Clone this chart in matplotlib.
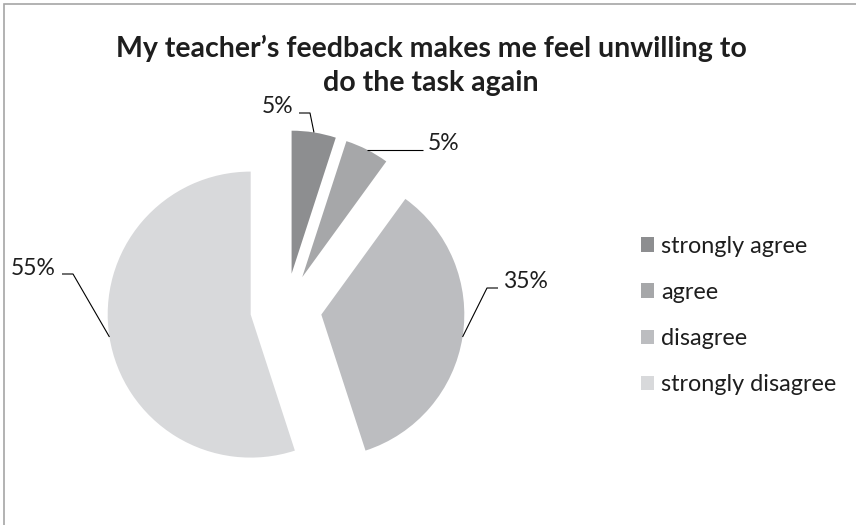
import matplotlib.pyplot as plt
import matplotlib.patches as mpatches
import numpy as np

plt.rcParams['font.family'] = ['Lato', 'DejaVu Sans']

title = 'My teacher\u2019s feedback makes me feel unwilling to\ndo the task again'
categories = ['strongly agree', 'agree', 'disagree', 'strongly disagree']
shares = [5, 5, 35, 55]
pct_labels = ['5%', '5%', '35%', '55%']
colors = ['#8d8e90', '#a6a7a9', '#bcbdc0', '#d8d9db']

W, H = 856, 525
R = 143.0          # pie radius in pixels
CX, CY = 286, 309  # pie centre in pixels (y from top)
TEXT = '#1e1e1e'


def px(x, y):
    # pixel position (y down) -> data coordinates
    return (x - CX) / R, (CY - y) / R


fig = plt.figure(figsize=(W / 100, H / 100), dpi=100)
ax = fig.add_axes([0, 0, 1, 1])

wedges, _ = ax.pie(shares, colors=colors, explode=[0.25] * 4, radius=1,
                   startangle=90, counterclock=False,
                   wedgeprops=dict(linewidth=0))
ax.set_xlim(-CX / R, (W - CX) / R)
ax.set_ylim(-(H - CY) / R, CY / R)
ax.set_aspect('auto')
ax.axis('off')

# chart border (only left and top edges show)
fig.patches.append(mpatches.Rectangle((4 / W, -0.1), 1.2, (H - 4) / H + 0.1,
                                      transform=fig.transFigure, fill=False,
                                      edgecolor='#a6a6a6', linewidth=1.2))

# label text anchor (px), alignment, leader elbow and leader end (px)
label_pos = [
    ((293, 113), 'right', (310, 113), (299, 113)),
    ((428, 151), 'left', None, (423, 151)),
    ((503, 288), 'left', (487, 288), (498, 288)),
    ((56, 275), 'right', (73, 274), (62, 274)),
]

for w, txt, (tpos, ha, elbow, end) in zip(wedges, pct_labels, label_pos):
    mid = np.deg2rad((w.theta1 + w.theta2) / 2)
    cx, cy = w.center
    arc = (cx + w.r * np.cos(mid), cy + w.r * np.sin(mid))
    ex, ey = px(*end)
    if elbow is None:
        pts = [arc, (ex, arc[1])]
        ty = arc[1]
    else:
        pts = [arc, px(*elbow), (ex, ey)]
        ty = px(*tpos)[1]
    xs, ys = zip(*pts)
    ax.plot(xs, ys, color='black', linewidth=0.8, solid_capstyle='butt')
    tx = px(*tpos)[0]
    ax.text(tx, ty, txt, ha=ha, va='baseline', fontsize=16.5, color=TEXT)

fig.text(431 / W, 1 - 65 / H, title, ha='center', va='center',
         fontsize=20.5, fontweight='bold', color=TEXT, linespacing=1.38)

leg = ax.legend(wedges, categories, loc='upper left',
                bbox_to_anchor=(629 / W, 1 - 224 / H),
                bbox_transform=fig.transFigure, frameon=False,
                fontsize=16.8, handlelength=0.58, handleheight=0.58,
                handletextpad=0.3, labelspacing=1.08, borderpad=0)
for t in leg.get_texts():
    t.set_color(TEXT)

fig.savefig('out.png', dpi=100, facecolor='white')
